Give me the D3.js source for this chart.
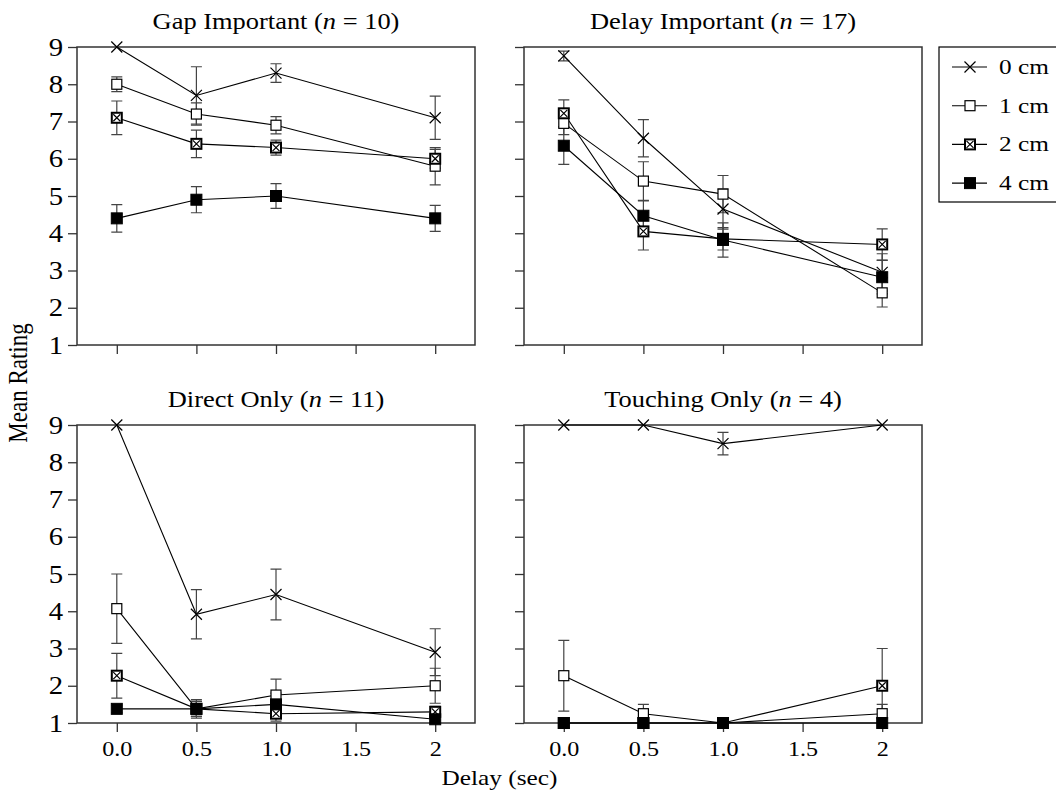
<!DOCTYPE html>
<html>
<head>
<meta charset="utf-8">
<script src="https://cdn.jsdelivr.net/npm/d3@7/dist/d3.min.js"></script>
<style>
  html, body { margin: 0; padding: 0; background: #fff; }
  svg { display: block; }
  text { font-family: "Liberation Serif", "Times New Roman", Times, serif; fill: #000; }
</style>
</head>
<body>
<svg id="chart" width="1056" height="792"></svg>
<script>
// ---- data ----
const delays = [0, 0.5, 1.0, 2];
const delayTicks = [0, 0.5, 1.0, 1.5, 2];
const delayTickLabels = ["0.0", "0.5", "1.0", "1.5", "2"];
const ratingTicks = [1, 2, 3, 4, 5, 6, 7, 8, 9];
const gapLabels = ["0 cm", "1 cm", "2 cm", "4 cm"];
const gapMarkers = ["cross", "open", "crossbox", "filled"];
const panelTitles = ["Gap Important", "Delay Important", "Direct Only", "Touching Only"];
const panelN = [10, 17, 11, 4];

// mean rating per gap (rows: 0, 1, 2, 4 cm; columns: delays)
const gapImportantMean = [[9.0, 7.7, 8.3, 7.1], [8.0, 7.2, 6.9, 5.8], [7.1, 6.4, 6.3, 6.0], [4.4, 4.9, 5.0, 4.4]];
const gapImportantErr  = [[0, 0.77, 0.25, 0.58], [0.2, 0.3, 0.23, 0.5], [0.45, 0.37, 0.2, 0.25], [0.37, 0.35, 0.33, 0.35]];

const delayImportantMean = [[8.76, 6.55, 4.65, 2.95], [6.95, 5.4, 5.05, 2.4], [7.22, 4.05, 3.85, 3.7], [6.35, 4.47, 3.82, 2.82]];
const delayImportantErr  = [[0.13, 0.5, 0.54, 0.5], [0.3, 0.52, 0.5, 0.38], [0.36, 0.5, 0.3, 0.42], [0.5, 0.4, 0.46, 0.45]];

const directOnlyMean = [[9.0, 3.92, 4.45, 2.9], [4.07, 1.38, 1.75, 2.0], [2.27, 1.38, 1.25, 1.3], [1.38, 1.38, 1.5, 1.1]];
const directOnlyErr  = [[0, 0.66, 0.68, 0.63], [0.93, 0.2, 0.43, 0.47], [0.6, 0.2, 0.2, 0.15], [0.1, 0.25, 0.3, 0.1]];

const touchingOnlyMean = [[9.0, 9.0, 8.5, 9.0], [2.27, 1.25, 1.0, 1.25], [1.0, 1.0, 1.0, 2.0], [1.0, 1.0, 1.0, 1.0]];
const touchingOnlyErr  = [[0, 0, 0.3, 0], [0.95, 0.25, 0, 0.25], [0, 0, 0, 1.0], [0, 0, 0, 0]];

const panelMeans = [gapImportantMean, delayImportantMean, directOnlyMean, touchingOnlyMean];
const panelErrs = [gapImportantErr, delayImportantErr, directOnlyErr, touchingOnlyErr];

// ---- layout ----
const svg = d3.select("#chart");
const colRanges = [[77, 475], [524, 922]];
const rowRanges = [[345, 47], [723, 425]];
const STRETCH = 1.15;          // slightly wide serif lettering
const markSize = 10;

function wideText(g, x, y, anchor, size) {
  return g.append("text")
    .attr("transform", `translate(${x},${y}) scale(${STRETCH},1)`)
    .attr("text-anchor", anchor)
    .style("font-size", size + "px");
}

function drawMarker(g, type, cx, cy) {
  const h = markSize / 2;
  if (type === "cross") {
    const c = 5.5;
    g.append("path")
      .attr("d", `M${cx - c},${cy - c}L${cx + c},${cy + c}M${cx - c},${cy + c}L${cx + c},${cy - c}`)
      .attr("stroke", "#000").attr("stroke-width", 1.2).attr("fill", "none");
  } else if (type === "open") {
    g.append("rect").attr("x", cx - h).attr("y", cy - h).attr("width", markSize).attr("height", markSize)
      .attr("fill", "#fff").attr("stroke", "#000").attr("stroke-width", 1.2);
  } else if (type === "crossbox") {
    g.append("rect").attr("x", cx - h).attr("y", cy - h).attr("width", markSize).attr("height", markSize)
      .attr("fill", "#fff").attr("stroke", "#000").attr("stroke-width", 2);
    const c = h - 1.5;
    g.append("path")
      .attr("d", `M${cx - c},${cy - c}L${cx + c},${cy + c}M${cx - c},${cy + c}L${cx + c},${cy - c}`)
      .attr("stroke", "#000").attr("stroke-width", 1.2).attr("fill", "none");
  } else {
    g.append("rect").attr("x", cx - h - 0.5).attr("y", cy - h - 0.5).attr("width", markSize + 1).attr("height", markSize + 1)
      .attr("fill", "#000").attr("stroke", "#000").attr("stroke-width", 1);
  }
}

panelTitles.forEach((title, p) => {
  const col = p % 2, row = Math.floor(p / 2);
  const x = d3.scaleLinear().domain([-0.25, 2.25]).range(colRanges[col]);
  const y = d3.scaleLinear().domain([1, 9]).range(rowRanges[row]);
  const g = svg.append("g");

  // axes (outward ticks); labels only on the outer edges
  const xAxis = d3.axisBottom(x).tickValues(delayTicks).tickSize(9).tickSizeOuter(0).tickPadding(9)
    .tickFormat((d, i) => row === 1 ? delayTickLabels[i] : "");
  const yAxis = d3.axisLeft(y).tickValues(ratingTicks).tickSize(9).tickSizeOuter(0).tickPadding(6)
    .tickFormat(d => col === 0 ? d : "");

  const gx = g.append("g").attr("transform", `translate(0,${y.range()[0]})`).call(xAxis);
  const gy = g.append("g").attr("transform", `translate(${x.range()[0]},0)`).call(yAxis);
  [gx, gy].forEach(a => {
    a.select(".domain").remove();
    a.selectAll(".tick line").attr("stroke", "#333").attr("stroke-width", 1.3);
    a.selectAll(".tick text").style("font-family", "'Liberation Serif', 'Times New Roman', serif").attr("fill", "#000");
  });
  gx.selectAll(".tick text").style("font-size", "21px")
    .attr("transform", `scale(${STRETCH},1)`);
  gy.selectAll(".tick text").style("font-size", "25px")
    .attr("x", null)
    .attr("transform", `translate(-14,0) scale(${STRETCH},1)`);

  // frame
  g.append("rect")
    .attr("x", x.range()[0]).attr("y", y.range()[1])
    .attr("width", x.range()[1] - x.range()[0]).attr("height", y.range()[0] - y.range()[1])
    .attr("fill", "none").attr("stroke", "#333").attr("stroke-width", 1.5);

  // title
  const t = wideText(g, (x.range()[0] + x.range()[1]) / 2, y.range()[1] - 18, "middle", 23);
  t.append("tspan").text(title + " (");
  t.append("tspan").style("font-style", "italic").text("n");
  t.append("tspan").text(" = " + panelN[p] + ")");

  const means = panelMeans[p], errs = panelErrs[p];
  const line = d3.line().x((d, i) => x(delays[i])).y(d => y(d));

  // connecting lines
  means.forEach(series => {
    g.append("path").attr("d", line(series)).attr("fill", "none")
      .attr("stroke", "#000").attr("stroke-width", 1.1);
  });

  // error bars
  means.forEach((series, s) => {
    series.forEach((m, i) => {
      const e = errs[s][i];
      if (!e) return;
      const cx = x(delays[i]);
      const y0 = y(m - e), y1 = y(m + e);
      g.append("path")
        .attr("d", `M${cx},${y0}V${y1}M${cx - 5.5},${y0}H${cx + 5.5}M${cx - 5.5},${y1}H${cx + 5.5}`)
        .attr("stroke", "#444").attr("stroke-width", 1.2).attr("fill", "none");
    });
  });

  // markers
  means.forEach((series, s) => {
    series.forEach((m, i) => drawMarker(g, gapMarkers[s], x(delays[i]), y(m)));
  });
});

// axis titles
wideText(svg, 499.5, 785, "middle", 22).text("Delay (sec)");
svg.append("text")
  .attr("transform", `translate(27,383) rotate(-90) scale(1,${STRETCH})`)
  .attr("text-anchor", "middle")
  .style("font-size", "23px")
  .text("Mean Rating");

// legend
const legend = svg.append("g");
legend.append("rect").attr("x", 939).attr("y", 47).attr("width", 130).attr("height", 155)
  .attr("fill", "#fff").attr("stroke", "#000").attr("stroke-width", 1.2);
gapLabels.forEach((label, i) => {
  const ly = 67 + i * 38.7;
  legend.append("line").attr("x1", 952).attr("x2", 987).attr("y1", ly).attr("y2", ly)
    .attr("stroke", "#000").attr("stroke-width", 1.1);
  drawMarker(legend, gapMarkers[i], 970, ly);
  wideText(legend, 999, ly + 7, "start", 22).text(label);
});
</script>
</body>
</html>
